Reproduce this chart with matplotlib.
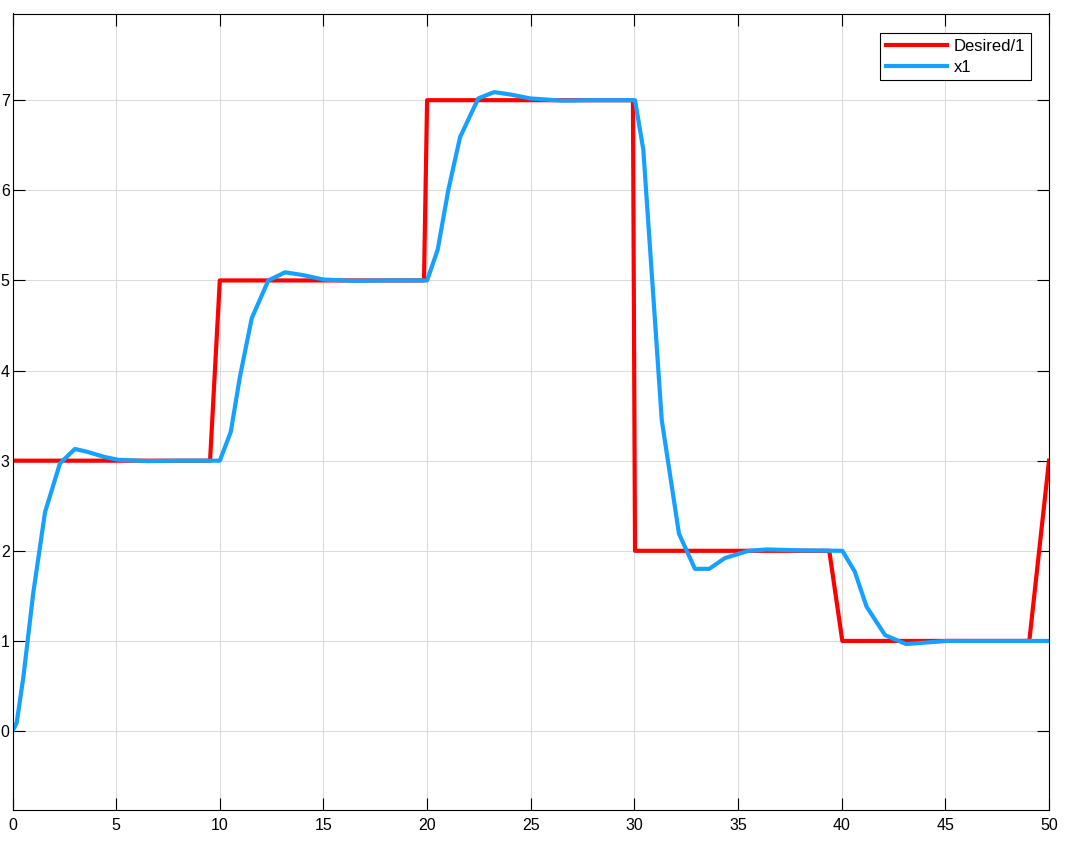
import matplotlib
matplotlib.use('Agg')
import matplotlib.pyplot as plt

plt.rcParams['font.family'] = ['Liberation Sans', 'DejaVu Sans']

# Desired/1 signal (variable-step samples)
desired_t = [0, 9.53, 10.0, 19.85, 20.0, 29.93, 30.03, 39.4, 40.03, 49.05, 50.0]
desired_y = [3, 3, 5, 5, 7, 7, 2, 2, 1, 1, 3]

# x1 response
x1_t = [0.0, 0.2, 0.52, 1.0, 1.57, 2.29, 3.01, 3.58, 4.46, 5.09, 6.5, 8.0, 10.0,
        10.53, 10.97, 11.54, 12.34, 13.15, 14.0, 15.0, 16.5, 18.0, 20.0,
        20.51, 21.02, 21.59, 22.47, 23.24, 24.1, 24.96, 26.5, 28.0, 30.03,
        30.43, 31.32, 32.15, 32.92, 33.61, 34.37, 35.5, 36.4, 38.0, 40.03,
        40.63, 41.2, 42.09, 43.1, 45.07, 47.0, 50.0]
x1_y = [0.0, 0.09, 0.59, 1.53, 2.43, 2.97, 3.13, 3.10, 3.04, 3.01, 2.995, 3.0, 3.0,
        3.32, 3.93, 4.58, 5.0, 5.09, 5.06, 5.01, 4.995, 5.0, 5.0,
        5.34, 6.0, 6.59, 7.02, 7.09, 7.06, 7.02, 6.995, 7.0, 7.0,
        6.45, 3.45, 2.19, 1.80, 1.80, 1.92, 2.0, 2.015, 2.005, 2.0,
        1.77, 1.38, 1.065, 0.965, 1.0, 1.0, 1.0]

fig = plt.figure(figsize=(10.7, 8.42), dpi=100)
ax = fig.add_axes([12.5 / 1070, 1 - 810 / 842, (1049 - 12.5) / 1070, (810 - 13.5) / 842])

ax.plot(desired_t, desired_y, color='#ff0000', linewidth=3.0, label='Desired/1')
ax.plot(x1_t, x1_y, color='#16a0ff', linewidth=3.0, label='x1')

ax.set_xlim(0, 50)
ax.set_ylim(-0.876, 7.962)
ax.set_xticks(range(0, 51, 5))
ax.set_yticks(range(0, 8))

ax.grid(True, color='#dcdcdc', linewidth=0.8)
ax.set_axisbelow(True)
ax.tick_params(direction='in', length=8.4, width=0.8, top=True, right=True,
               labelsize=11.5, colors='black')
ax.tick_params(axis='x', pad=6)
ax.tick_params(axis='y', pad=2)
for s in ax.spines.values():
    s.set_linewidth(0.8)
    s.set_color('black')

leg = ax.legend(loc='upper right', bbox_to_anchor=(0.9824, 0.975), borderaxespad=0,
                fontsize=12, handlelength=3.65, handletextpad=0.4, labelspacing=0.32,
                borderpad=0.35, fancybox=False, framealpha=1, edgecolor='black')
leg.get_frame().set_linewidth(0.8)

fig.savefig('out.png', dpi=100)
